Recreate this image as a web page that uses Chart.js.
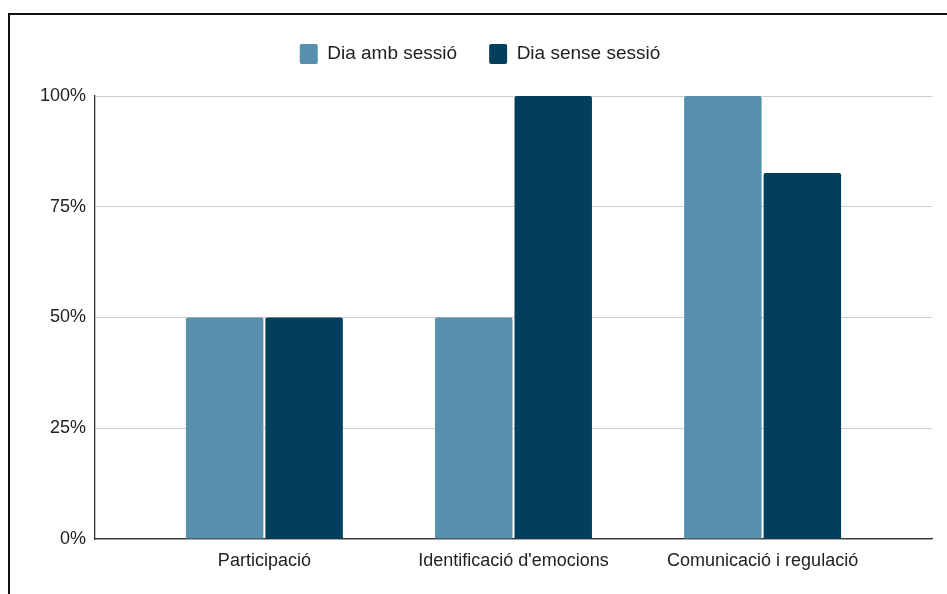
<!DOCTYPE html>
<html>
<head>
<meta charset="utf-8">
<script src="https://cdn.jsdelivr.net/npm/chart.js@4/dist/chart.umd.min.js"></script>
<style>
  html, body { margin: 0; padding: 0; background: #fff; overflow: hidden; }
  #frame { position: absolute; left: 8px; top: 13px; width: 1000px; height: 700px;
           border-top: 2px solid #111; border-left: 2px solid #111; }
  #wrap { position: absolute; left: 0; top: 0; width: 947px; height: 594px; }
</style>
</head>
<body>
<div id="frame"></div>
<div id="wrap"><canvas id="chart" width="947" height="594"></canvas></div>
<script>
// Categories, series and tick labels
const categories = ['Participació', "Identificació d'emocions", 'Comunicació i regulació'];
const seriesNames = ['Dia amb sessió', 'Dia sense sessió'];
const ambSessio = [50, 50, 100];
const senseSessio = [50, 100, 82.6];
const yTicks = [0, 25, 50, 75, 100];

const colors = ['#5790ac', '#023f5d'];
const FONT = { family: "'Liberation Sans', Arial, sans-serif", size: 18 };

// Extra space below the legend, and a small nudge of the legend row to the right
const legendGap = {
  id: 'legendGap',
  beforeLayout(chart) {
    const lg = chart.legend;
    if (lg && !lg._gapPatched) {
      const fit = lg.fit;
      lg.fit = function () { fit.call(this); this.height += 22; };
      lg._gapPatched = true;
    }
  },
  afterLayout(chart) {
    const lg = chart.legend;
    if (lg) { lg.left += 14; lg.right += 14; }
  }
};

const toPoints = arr => arr.map((v, i) => ({ x: i, y: v }));

new Chart(document.getElementById('chart'), {
  type: 'bar',
  data: {
    datasets: [
      { label: seriesNames[0], data: toPoints(ambSessio), backgroundColor: colors[0] },
      { label: seriesNames[1], data: toPoints(senseSessio), backgroundColor: colors[1] }
    ].map(d => Object.assign(d, {
      categoryPercentage: 0.638,
      barPercentage: 0.975,
      borderRadius: 2,
      borderSkipped: 'start'
    }))
  },
  options: {
    responsive: false,
    animation: false,
    layout: { padding: { top: 12, right: 15, left: 0, bottom: 0 } },
    plugins: {
      tooltip: { enabled: false },
      legend: {
        position: 'top',
        labels: {
          font: { family: FONT.family, size: 19 },
          color: '#222',
          boxWidth: 18,
          boxHeight: 20,
          padding: 32,
          useBorderRadius: true,
          borderRadius: 2
        }
      }
    },
    scales: {
      x: {
        type: 'linear',
        offset: false,
        min: -0.68,
        max: 2.68,
        afterBuildTicks(scale) { scale.ticks = categories.map((_, i) => ({ value: i })); },
        afterFit(scale) { scale.height = 55; },
        grid: { display: false, drawTicks: false, offset: false },
        border: { display: true, color: '#333', width: 1.3 },
        ticks: {
          font: FONT,
          color: '#222',
          padding: 11,
          maxRotation: 0,
          autoSkip: false,
          callback: v => categories[v]
        }
      },
      y: {
        min: 0,
        max: 100,
        afterBuildTicks(scale) { scale.ticks = yTicks.map(v => ({ value: v })); },
        afterFit(scale) { scale.width = 95; },
        grid: { color: '#cccccc', lineWidth: 1, drawTicks: false },
        border: { display: true, color: '#333', width: 1.3 },
        ticks: {
          font: FONT,
          color: '#222',
          padding: 9,
          callback: v => v + '%'
        }
      }
    }
  },
  plugins: [legendGap]
});
</script>
</body>
</html>
